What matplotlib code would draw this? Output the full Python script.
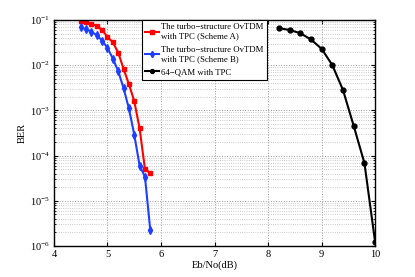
import numpy as np
import matplotlib.pyplot as plt
from matplotlib.ticker import LogLocator, NullFormatter

plt.rcParams['font.family'] = ['Liberation Serif', 'DejaVu Serif']
plt.rcParams['mathtext.fontset'] = 'stix'

# Scheme A (red)
ebno_a = [4.5, 4.6, 4.7, 4.8, 4.9, 5.0, 5.1, 5.2, 5.3, 5.4, 5.5, 5.6, 5.7, 5.8]
ber_a = [0.095, 0.089, 0.082, 0.074, 0.060, 0.042, 0.032, 0.019, 0.0083,
         0.0038, 0.0016, 4.0e-4, 5.0e-5, 4.1e-5]

# Scheme B (blue)
ebno_b = [4.5, 4.6, 4.7, 4.8, 4.9, 5.0, 5.1, 5.2, 5.3, 5.4, 5.5, 5.6, 5.7, 5.8]
ber_b = [0.069, 0.062, 0.055, 0.046, 0.035, 0.024, 0.014, 0.0074, 0.0031,
         0.0011, 2.9e-4, 6.0e-5, 3.4e-5, 2.2e-6]

# 64-QAM with TPC (black)
ebno_q = [8.2, 8.4, 8.6, 8.8, 9.0, 9.2, 9.4, 9.6, 9.8, 10.0]
ber_q = [0.066, 0.060, 0.051, 0.037, 0.023, 0.010, 0.0028, 4.5e-4, 6.8e-5, 1.2e-6]

labels = ['The turbo\u2212structure OvTDM\nwith TPC (Scheme A)',
          'The turbo\u2212structure OvTDM\nwith TPC (Scheme B)',
          '64\u2212QAM with TPC']

fig = plt.figure(figsize=(4.15, 2.77), dpi=100)
ax = fig.add_axes([0.130, 0.112, 0.774, 0.816])

ax.semilogy(ebno_a, ber_a, '-s', color='#ff0000', lw=1.5, ms=3.5, label=labels[0])
ax.semilogy(ebno_b, ber_b, '-d', color='#1f3fff', lw=1.5, ms=4, label=labels[1])
ax.semilogy(ebno_q, ber_q, '-o', color='black', lw=1.5, ms=3.5, label=labels[2])

ax.set_xlim(4, 10)
ax.set_ylim(1e-6, 1e-1)
ax.set_xticks([4, 5, 6, 7, 8, 9, 10])
ax.yaxis.set_major_locator(LogLocator(base=10, numticks=10))
ax.yaxis.set_minor_locator(LogLocator(base=10, subs=np.arange(2, 10), numticks=20))
ax.yaxis.set_minor_formatter(NullFormatter())

ax.grid(True, which='major', ls=':', color='#999999', lw=0.7)
ax.grid(True, which='minor', axis='y', ls=':', color='#bbbbbb', lw=0.6)
ax.tick_params(which='both', direction='in', top=True, right=True, labelsize=7.5, pad=3)
ax.tick_params(which='major', length=3)
ax.tick_params(which='minor', length=1.5)
for s in ax.spines.values():
    s.set_linewidth(1.0)

ax.set_xlabel('Eb/No(dB)', fontsize=7.5, labelpad=1)
ax.set_ylabel('BER', fontsize=7.5, labelpad=2)

leg = ax.legend(loc='upper left', bbox_to_anchor=(0.274, 1.0), fontsize=6.3,
                fancybox=False, edgecolor='black', framealpha=1,
                handlelength=1.5, handletextpad=0.3, borderpad=0.4,
                labelspacing=0.6, borderaxespad=0, markerscale=0.8)
leg.get_frame().set_linewidth(0.8)

fig.savefig('out.png', dpi=100)
